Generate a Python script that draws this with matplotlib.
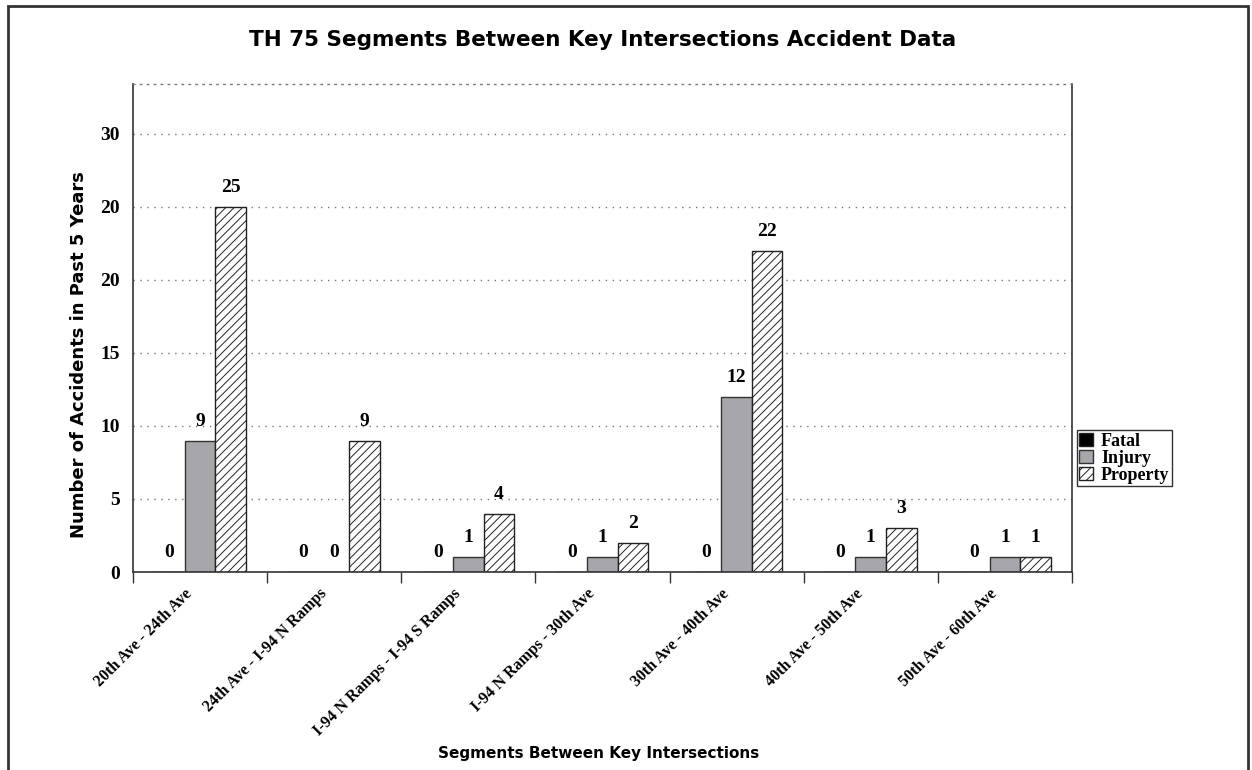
import numpy as np
import matplotlib
matplotlib.use('Agg')
import matplotlib.pyplot as plt
from matplotlib.patches import Rectangle
from matplotlib.transforms import ScaledTranslation

# chart data
segments = ['20th Ave - 24th Ave', '24th Ave - I-94 N Ramps', 'I-94 N Ramps - I-94 S Ramps',
            'I-94 N Ramps - 30th Ave', '30th Ave - 40th Ave', '40th Ave - 50th Ave',
            '50th Ave - 60th Ave']
fatal = [0, 0, 0, 0, 0, 0, 0]
injury = [9, 0, 1, 1, 12, 1, 1]
property_dmg = [25, 9, 4, 2, 22, 3, 1]
series_names = ['Fatal', 'Injury', 'Property']
y_ticks = [0, 5, 10, 15, 20, 25, 30]
y_tick_labels = ['0', '5', '10', '15', '20', '20', '30']

serif = 'Liberation Serif'
plt.rcParams['hatch.linewidth'] = 0.7

fig = plt.figure(figsize=(12.52, 7.70), dpi=100)
ax = fig.add_axes([0.1062, 0.2571, 0.75, 0.6338])

x = np.arange(len(segments))
w = 0.228
b1 = ax.bar(x - w, fatal, w, color='black', edgecolor='#222222', lw=1, label=series_names[0])
b2 = ax.bar(x, injury, w, color='#a7a7ab', edgecolor='#333333', lw=1, label=series_names[1])
b3 = ax.bar(x + w, property_dmg, w, color='white', edgecolor='#222222', lw=1,
            hatch='////', label=series_names[2])

for bars in (b1, b2, b3):
    for rect in bars:
        h = rect.get_height()
        ax.annotate(f'{int(h)}', (rect.get_x() + rect.get_width() / 2, h),
                    xytext=(0, 14), textcoords='offset points', ha='center', va='center',
                    fontsize=14, fontweight='bold', family=serif)

ax.set_xlim(-0.5, len(segments) - 0.5)
ax.set_ylim(0, 33.4)

# group boundaries as major ticks, names at the centres
ax.set_xticks(np.arange(len(segments) + 1) - 0.5)
ax.set_xticklabels([])
ax.tick_params(axis='x', which='major', length=8, direction='out', width=1, color='#333333')
ax.set_xticks(x, minor=True)
ax.set_xticklabels(segments, minor=True, rotation=45, ha='right', va='center',
                   rotation_mode='anchor', fontsize=11.5, fontweight='bold', family=serif)
ax.tick_params(axis='x', which='minor', length=0, pad=14)
shift = ScaledTranslation(-0.10, 0, fig.dpi_scale_trans)
for lbl in ax.get_xticklabels(minor=True):
    lbl.set_transform(lbl.get_transform() + shift)

ax.set_yticks(y_ticks)
ax.set_yticklabels(y_tick_labels, fontsize=14, fontweight='bold', family=serif)
ax.tick_params(axis='y', length=0, pad=9.5)
ax.grid(axis='y', linestyle=(0, (1, 4)), color='#777777', lw=1)
ax.set_axisbelow(True)

for side in ('left', 'right', 'bottom'):
    ax.spines[side].set_color('#333333')
    ax.spines[side].set_linewidth(1.2)
ax.spines['top'].set_linestyle((0, (1, 4)))
ax.spines['top'].set_color('#777777')
ax.spines['top'].set_linewidth(1)

ax.set_xlabel('Segments Between Key Intersections', fontsize=11, fontweight='bold',
              family='DejaVu Sans')
ax.xaxis.set_label_coords(0.496, -0.356)
ax.set_ylabel('Number of Accidents in Past 5 Years', fontsize=13, fontweight='bold',
              family='DejaVu Sans')
ax.yaxis.set_label_coords(-0.048, 0.445)

fig.text(0.481, 0.948, 'TH 75 Segments Between Key Intersections Accident Data',
         ha='center', va='center', fontsize=15.5, fontweight='bold', family='DejaVu Sans')

leg = ax.legend(loc='upper left', bbox_to_anchor=(0.860, 0.4416), bbox_transform=fig.transFigure,
                prop={'family': serif, 'weight': 'bold', 'size': 13}, frameon=True,
                fancybox=False, handlelength=0.75, handleheight=0.7, handletextpad=0.45,
                borderpad=0.15, labelspacing=0.0, borderaxespad=0)
leg.get_frame().set_edgecolor('black')
leg.get_frame().set_linewidth(1)

# outer frame
fig.patches.append(Rectangle((0.006, -0.01), 0.991, 1.002, transform=fig.transFigure,
                             fill=False, edgecolor='#333333', lw=2))

fig.savefig('out.png', dpi=100)
